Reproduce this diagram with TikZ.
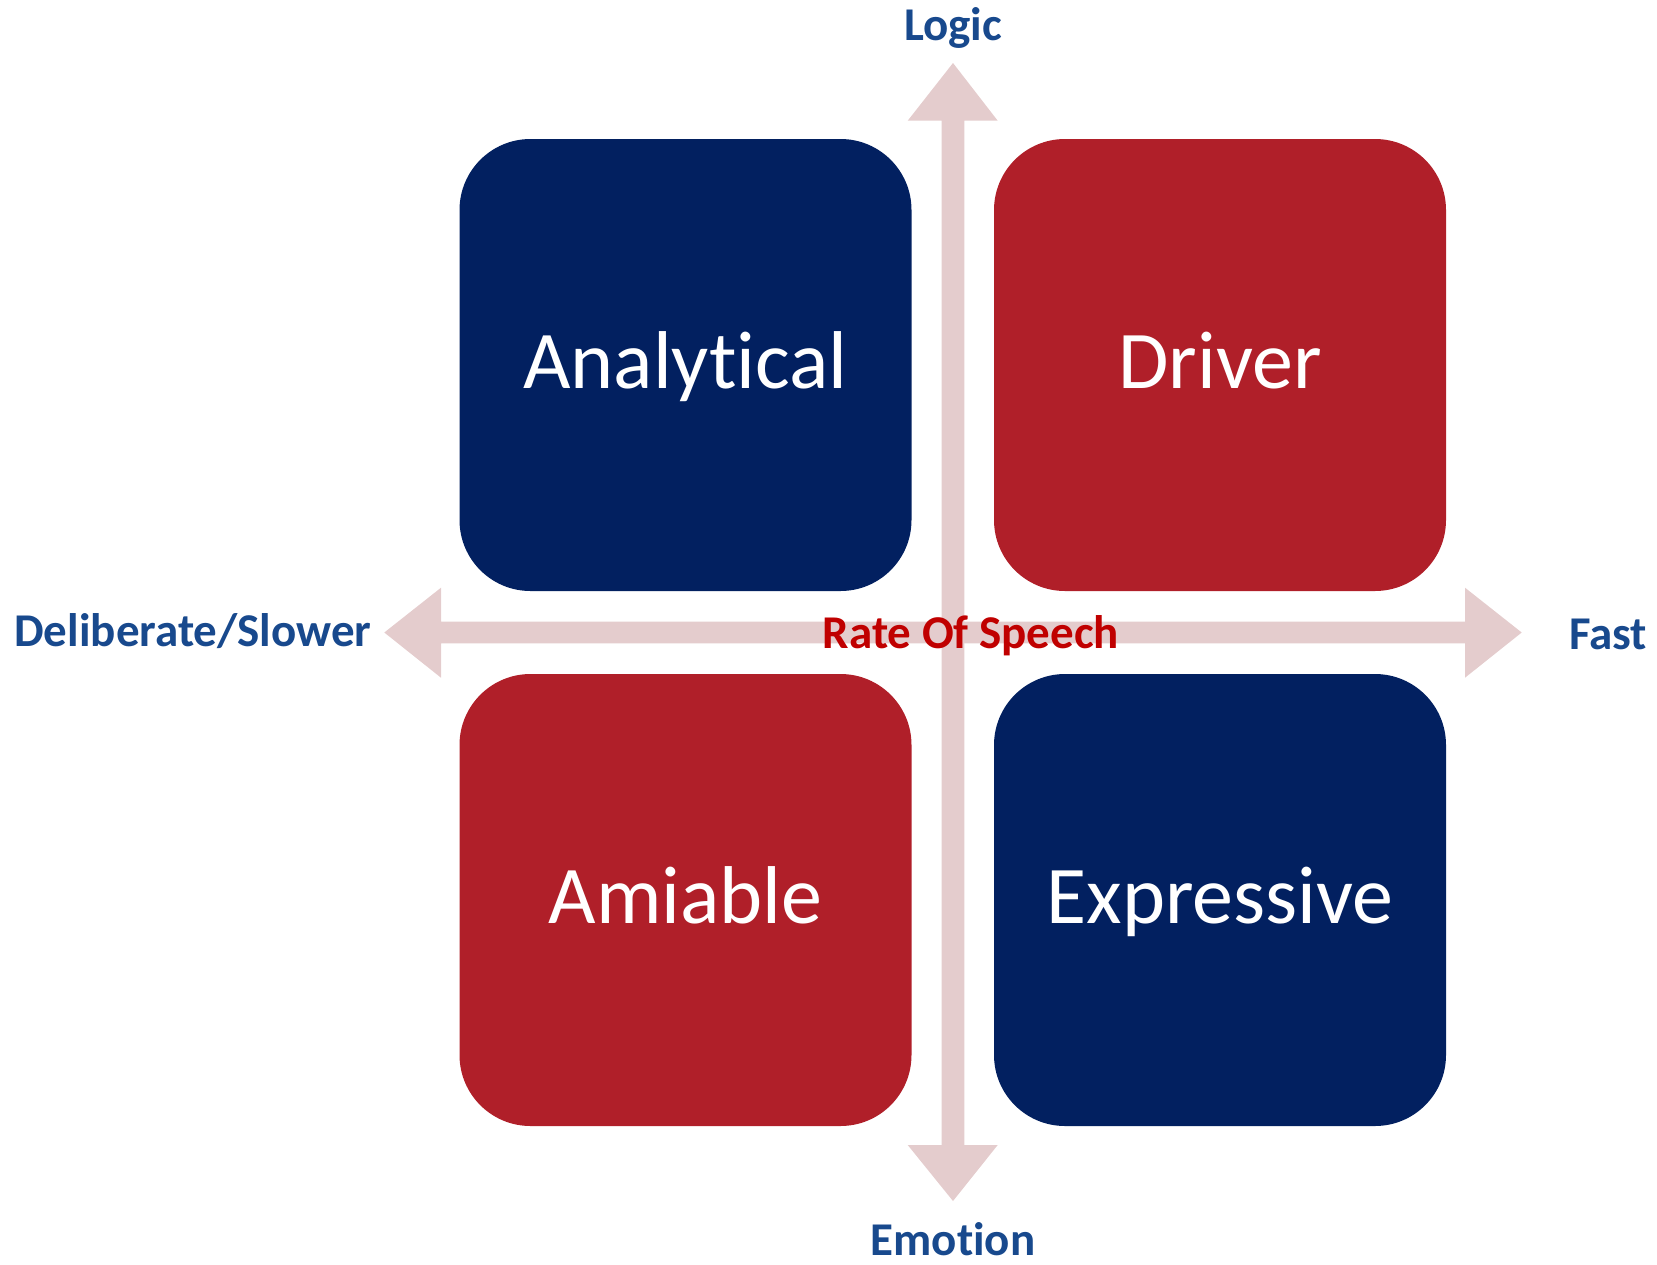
\documentclass[tikz,border=0pt]{standalone}
\usepackage{fontspec}
\setmainfont{Carlito}[Ligatures=NoCommon, RawFeature={-liga;-dlig}]
\definecolor{navybox}{RGB}{2,32,96}
\definecolor{redbox}{RGB}{176,31,41}
\definecolor{axisblue}{RGB}{24,73,141}
\definecolor{speechred}{RGB}{192,0,0}
\definecolor{axispink}{RGB}{228,204,205}
\begin{document}
\begin{tikzpicture}[x=1pt,y=-1pt,
  quad/.style={rounded corners=71pt, minimum width=452pt, minimum height=452pt,
    inner sep=0pt, text=white, text height=60pt, text depth=14pt,
    font=\fontsize{82}{96}\selectfont},
  navyquad/.style={quad, fill=navybox},
  redquad/.style={quad, fill=redbox},
  axislabel/.style={anchor=base, inner sep=0pt, text=axisblue,
    font=\bfseries\fontsize{47}{54}\selectfont},
  arrowbody/.style={fill=axispink, draw=none}]
\useasboundingbox (0,0) rectangle (1657,1264);

% vertical axis: double-headed arrow
\fill[arrowbody] (953,63) -- (997.7,120.7) -- (964.3,120.7) -- (964.3,1145)
  -- (997.7,1145) -- (953,1201) -- (907.7,1145) -- (941.7,1145)
  -- (941.7,120.7) -- (907.7,120.7) -- cycle;
% horizontal axis: double-headed arrow
\fill[arrowbody] (384.3,632.5) -- (441,587.7) -- (441,621.7) -- (1465,621.7)
  -- (1465,587.7) -- (1521.7,632.5) -- (1465,677.7) -- (1465,643.3)
  -- (441,643.3) -- (441,677.7) -- cycle;

% the four quadrants
\node[navyquad] (analytical) at (685.5,365) {Analytical};
\node[redquad]  (driver)     at (1220,365)  {Driver};
\node[redquad]  (amiable)    at (685.5,900) {Amiable};
\node[navyquad] (expressive) at (1220,900)  {Expressive};

% axis labels
\node[axislabel] (logic)   at (953,40)    {Logic};
\node[axislabel] (emotion) at (953,1255)  {Emotion};
\node[axislabel] (slow)    at (193,646)   {Deliberate/Slower};
\node[axislabel] (fast)    at (1608,649)  {Fast};
\node[axislabel, text=speechred] (rate) at (971,648) {Rate Of Speech};
\end{tikzpicture}
\end{document}
